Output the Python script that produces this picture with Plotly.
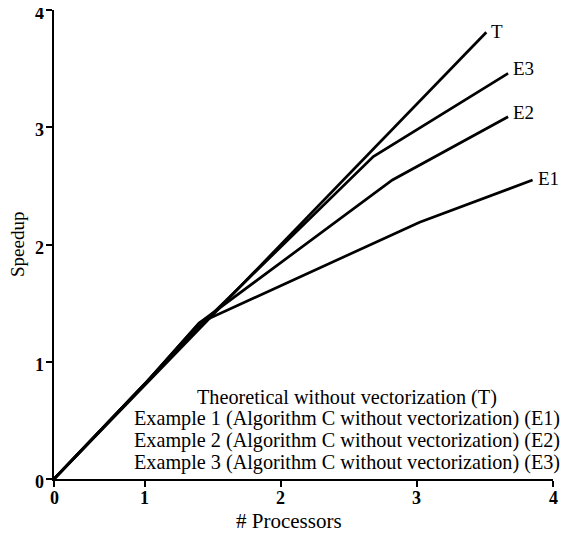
import plotly.graph_objects as go

# Data (x in axis units; the corner labelled "0" sits at x=1/3)
X0 = 1/3
t_x = [X0, 3.51]
t_y = [0.0, 3.81]
e1_x = [X0, 1.0, 1.40, 3.02, 3.85]
e1_y = [0.0, 0.81, 1.33, 2.19, 2.55]
e2_x = [X0, 1.0, 1.40, 2.82, 3.67]
e2_y = [0.0, 0.81, 1.33, 2.55, 3.09]
e3_x = [X0, 1.40, 2.68, 3.67]
e3_y = [0.0, 1.30, 2.75, 3.46]
series_names = ["T", "E1", "E2", "E3"]
x_tick_vals = [X0, 1, 2, 3, 4]
x_tick_text = ["0", "1", "2", "3", "4"]
y_tick_vals = [0, 1, 2, 3, 4]
y_tick_text = ["0", "1", "2", "3", "4"]
legend_lines = [
    "Theoretical without vectorization (T)",
    "Example 1 (Algorithm C without vectorization) (E1)",
    "Example 2 (Algorithm C without vectorization) (E2)",
    "Example 3 (Algorithm C without vectorization) (E3)",
]

SERIF = "Liberation Serif, Times New Roman, serif"
OFF = 8  # page body margin
W, H = 568 - OFF, 535 - OFF
# plot-area edges in page pixels
PL, PR, PT, PB = 54, 553, 10, 479

fig = go.Figure()
all_x = [t_x, e1_x, e2_x, e3_x]
all_y = [t_y, e1_y, e2_y, e3_y]
for name, xs, ys in zip(series_names, all_x, all_y):
    fig.add_trace(go.Scatter(x=xs, y=ys, mode="lines", name=name,
                             line=dict(color="black", width=2.7),
                             showlegend=False, hoverinfo="skip", cliponaxis=False))

# End labels
label_dy = {"T": -1, "E1": -2, "E2": -4, "E3": -5}
for name, xs, ys in zip(series_names, all_x, all_y):
    fig.add_annotation(x=xs[-1], y=ys[-1], text=name, showarrow=False,
                       xanchor="left", yanchor="middle", xshift=3,
                       yshift=-label_dy[name],
                       font=dict(family=SERIF, size=19, color="black"))

def px_x(p):
    return (p - PL) / (PR - PL)

def px_y(p):
    return (PB - p) / (PB - PT)

# Tick labels
TICKFONT = dict(family=SERIF, size=18, color="black", weight="bold")
for v, t in zip(x_tick_vals, x_tick_text):
    fig.add_annotation(x=v, xref="x", yref="paper", y=px_y(498), text=t,
                       showarrow=False, xanchor="center", yanchor="middle",
                       font=TICKFONT)
for v, t in zip(y_tick_vals, y_tick_text):
    fig.add_annotation(y=v, yref="y", xref="paper", x=px_x(46), text=t,
                       showarrow=False, xanchor="right", yanchor="middle",
                       yshift=-3, font=TICKFONT)

# Text block (legend-like)
top_px = 397
for i, line in enumerate(legend_lines):
    ypx = top_px + i * 21.7
    fig.add_annotation(xref="paper", yref="paper", x=px_x(347), y=px_y(ypx),
                       text=line, showarrow=False, xanchor="center", yanchor="middle",
                       font=dict(family=SERIF, size=20.2, color="black"))

# Y title
fig.add_annotation(xref="paper", yref="paper", x=px_x(17), y=px_y(245),
                   text="Speedup", showarrow=False,
                   textangle=-90, xanchor="center", yanchor="middle",
                   font=dict(family=SERIF, size=19, color="black"))
# X title
fig.add_annotation(xref="paper", yref="paper", x=px_x(289), y=px_y(521),
                   text="&#35; Processors", showarrow=False,
                   xanchor="center", yanchor="middle",
                   font=dict(family=SERIF, size=21, color="black"))

fig.update_xaxes(range=[X0, 4], tickvals=x_tick_vals, showticklabels=False,
                 automargin=False,
                 showline=True, linecolor="black", linewidth=2,
                 ticks="outside", ticklen=6, tickwidth=2, tickcolor="black",
                 showgrid=False, zeroline=False)
fig.update_yaxes(range=[0, 4], tickvals=y_tick_vals, showticklabels=False,
                 automargin=False,
                 showline=True, linecolor="black", linewidth=2,
                 ticks="outside", ticklen=6, tickwidth=2, tickcolor="black",
                 showgrid=False, zeroline=False)

fig.update_layout(width=W, height=H,
                  margin=dict(l=PL - OFF, r=W - (PR - OFF), t=PT - OFF,
                              b=H - (PB - OFF), pad=0),
                  plot_bgcolor="white", paper_bgcolor="white")

fig.write_html("out.html")
